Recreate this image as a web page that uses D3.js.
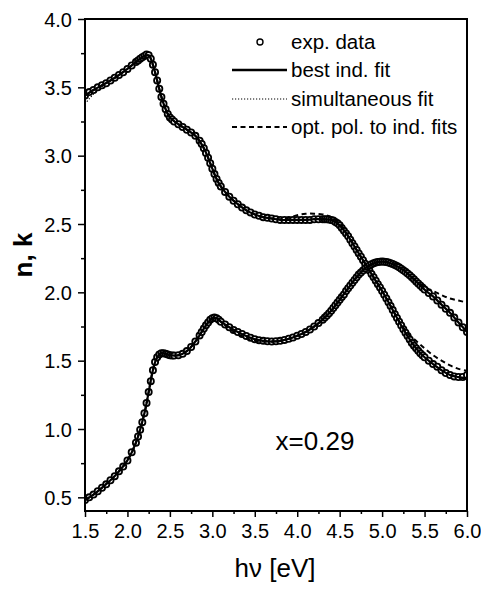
<!DOCTYPE html>
<html>
<head>
<meta charset="utf-8">
<script src="https://cdn.jsdelivr.net/npm/d3@7/dist/d3.min.js"></script>
<style>
  html, body { margin: 0; padding: 0; background: #fff; }
  svg { display: block; }
  text { font-family: "Liberation Sans", Arial, Helvetica, sans-serif; fill: #000; }
</style>
</head>
<body>
<svg id="chart" width="481" height="589"></svg>
<script>
// ---------- data ----------
const energyExp = [
  1.50,1.55,1.60,1.65,1.70,1.75,1.80,1.85,1.90,1.95,2.00,2.05,
  2.10,2.125,2.15,2.175,2.20,2.225,2.25,2.275,2.30,2.325,2.35,2.375,2.40,2.425,2.45,2.475,2.50,2.525,2.55,
  2.60,2.65,2.70,2.75,2.80,
  2.85,2.875,2.90,2.925,2.95,2.975,3.00,3.025,3.05,3.075,3.10,
  3.15,3.20,3.25,3.30,3.35,3.40,3.45,3.50,3.55,3.60,3.65,3.70,3.75,3.80,3.85,3.90,3.95,4.00,4.05,4.10,4.15,4.20,4.25,
  4.30,4.325,4.35,4.375,4.40,4.425,4.45,4.475,4.50,4.525,4.55,4.575,4.60,4.625,4.65,4.675,4.70,4.725,4.75,4.775,
  4.80,4.825,4.85,4.875,4.90,4.925,4.95,4.975,5.00,5.025,5.05,5.075,5.10,5.125,5.15,5.175,5.20,5.225,5.25,5.275,
  5.30,5.325,5.35,5.375,5.40,5.425,5.45,5.475,5.50,
  5.55,5.60,5.65,5.70,5.75,5.80,5.85,5.90,5.95,6.00
];
const nExp = [
  3.44,3.465,3.48,3.50,3.515,3.53,3.55,3.57,3.59,3.61,3.635,3.66,
  3.685,3.697,3.71,3.72,3.73,3.74,3.735,3.71,3.665,3.61,3.55,3.49,3.43,3.38,3.34,3.305,3.28,3.265,3.25,
  3.23,3.21,3.19,3.17,3.145,
  3.11,3.085,3.055,3.02,2.985,2.945,2.905,2.865,2.83,2.80,2.775,
  2.735,2.70,2.67,2.645,2.62,2.60,2.585,2.57,2.56,2.55,2.545,2.54,2.535,2.53,2.53,2.53,2.53,2.53,2.53,2.53,2.53,2.535,2.535,
  2.535,2.535,2.535,2.533,2.53,2.525,2.515,2.505,2.49,2.47,2.45,2.43,2.41,2.385,2.36,2.335,2.31,2.285,2.26,2.235,
  2.21,2.185,2.16,2.135,2.11,2.085,2.06,2.035,2.01,1.983,1.955,1.928,1.90,1.87,1.84,1.812,1.785,1.757,1.73,1.705,
  1.68,1.655,1.63,1.61,1.59,1.572,1.555,1.54,1.525,
  1.50,1.475,1.455,1.43,1.41,1.395,1.385,1.38,1.38,1.395
];
const kExp = [
  0.48,0.50,0.52,0.545,0.57,0.595,0.625,0.655,0.69,0.725,0.77,0.83,
  0.90,0.945,0.995,1.05,1.115,1.19,1.27,1.35,1.43,1.49,1.525,1.545,1.555,1.555,1.55,1.545,1.54,1.537,1.537,
  1.54,1.55,1.57,1.60,1.64,
  1.685,1.71,1.735,1.76,1.78,1.80,1.81,1.815,1.81,1.80,1.785,
  1.765,1.745,1.725,1.71,1.695,1.68,1.668,1.657,1.65,1.645,1.642,1.64,1.642,1.645,1.652,1.66,1.67,1.682,1.695,1.71,1.728,1.75,1.775,
  1.80,1.815,1.83,1.847,1.865,1.885,1.905,1.925,1.945,1.965,1.985,2.01,2.03,2.05,2.07,2.09,2.11,2.13,2.145,2.16,
  2.175,2.187,2.197,2.205,2.212,2.218,2.222,2.224,2.225,2.224,2.222,2.218,2.213,2.207,2.20,2.192,2.183,2.173,2.162,2.15,
  2.138,2.125,2.11,2.095,2.08,2.065,2.05,2.035,2.02,
  1.995,1.97,1.94,1.91,1.88,1.85,1.815,1.78,1.745,1.71
];

const energyFit = [
  1.5,1.6,1.7,1.8,1.9,2.0,2.1,2.2,
  2.25,2.3,2.35,2.4,2.45,2.5,
  2.6,2.7,2.8,2.9,
  2.95,3.0,3.05,3.1,
  3.2,3.3,3.4,3.5,3.6,3.7,3.8,3.9,4.0,4.1,4.2,4.3,4.4,4.5,4.6,4.7,4.8,4.9,5.0,5.1,5.2,5.3,5.4,5.5,5.6,5.7,5.8,5.9,6.0
];
const nBest = [
  3.44,3.48,3.515,3.55,3.59,3.635,3.685,3.73,
  3.735,3.665,3.55,3.43,3.34,3.28,
  3.23,3.19,3.145,3.055,
  2.985,2.905,2.83,2.775,
  2.70,2.645,2.60,2.57,2.55,2.54,2.53,2.53,2.53,2.53,2.535,2.535,2.53,2.49,2.41,2.31,2.21,2.11,2.01,1.90,1.785,1.68,1.59,1.525,1.475,1.43,1.395,1.38,1.37
];
const kBest = [
  0.48,0.52,0.57,0.625,0.69,0.77,0.90,1.115,
  1.27,1.43,1.525,1.555,1.55,1.54,
  1.54,1.57,1.64,1.735,
  1.78,1.81,1.81,1.785,
  1.745,1.71,1.68,1.657,1.645,1.64,1.645,1.66,1.682,1.71,1.75,1.80,1.865,1.945,2.03,2.11,2.175,2.212,2.225,2.213,2.183,2.138,2.08,2.02,1.97,1.91,1.85,1.78,1.71
];
const nSimul = [
  3.38,3.45,3.505,3.55,3.59,3.635,3.685,3.73,
  3.735,3.665,3.55,3.43,3.34,3.28,
  3.23,3.19,3.145,3.055,
  2.985,2.905,2.83,2.775,
  2.70,2.645,2.60,2.57,2.55,2.54,2.53,2.53,2.53,2.53,2.535,2.535,2.53,2.49,2.41,2.31,2.21,2.11,2.01,1.90,1.785,1.68,1.59,1.525,1.475,1.43,1.395,1.38,1.37
];
const kSimul = [
  0.48,0.52,0.57,0.625,0.69,0.77,0.90,1.115,
  1.27,1.43,1.525,1.555,1.55,1.54,
  1.54,1.57,1.64,1.735,
  1.78,1.81,1.81,1.785,
  1.745,1.71,1.68,1.657,1.645,1.64,1.645,1.66,1.682,1.71,1.75,1.80,1.865,1.945,2.03,2.11,2.175,2.212,2.225,2.213,2.183,2.138,2.08,2.02,1.97,1.91,1.85,1.78,1.71
];
const nOptPol = [
  3.44,3.48,3.515,3.55,3.59,3.635,3.685,3.73,
  3.735,3.665,3.55,3.43,3.34,3.28,
  3.23,3.19,3.145,3.055,
  2.985,2.905,2.83,2.775,
  2.70,2.645,2.60,2.57,2.55,2.54,2.535,2.545,2.565,2.575,2.575,2.57,2.55,2.50,2.415,2.31,2.21,2.11,2.01,1.90,1.79,1.70,1.645,1.59,1.54,1.50,1.465,1.44,1.425
];
const kOptPol = [
  0.48,0.52,0.57,0.625,0.69,0.77,0.90,1.115,
  1.27,1.43,1.525,1.555,1.55,1.54,
  1.54,1.57,1.64,1.735,
  1.78,1.81,1.81,1.785,
  1.735,1.695,1.665,1.645,1.64,1.64,1.645,1.66,1.682,1.71,1.75,1.80,1.865,1.945,2.03,2.11,2.175,2.212,2.225,2.213,2.183,2.138,2.085,2.04,2.01,1.98,1.955,1.94,1.925
];

const xTicks = [1.5,2.0,2.5,3.0,3.5,4.0,4.5,5.0,5.5,6.0];
const yTicks = [0.5,1.0,1.5,2.0,2.5,3.0,3.5,4.0];
const legendLabels = ["exp. data","best ind. fit","simultaneous fit","opt. pol. to ind. fits"];
const xTitle = "h\u03BD [eV]";
const yTitle = "n, k";
const annotation = "x=0.29";

// ---------- layout ----------
const svg = d3.select("#chart");
const L = 85, R = 467, T = 19, B = 511;
const x = d3.scaleLinear().domain([1.5, 6.0]).range([L, R]);
const y = d3.scaleLinear().domain([0.4, 4.0]).range([B, T]);

svg.append("defs").append("clipPath").attr("id","clip")
  .append("rect").attr("x",L).attr("y",T).attr("width",R-L).attr("height",B-T);

const plot = svg.append("g").attr("clip-path","url(#clip)");

// exp data circles
function drawExp(vals){
  plot.append("g").selectAll("circle")
    .data(energyExp.map((e,i)=>[e, vals[i]]))
    .join("circle")
    .attr("cx", d=>x(d[0])).attr("cy", d=>y(d[1]))
    .attr("r", 3.1)
    .attr("fill","#fff").attr("stroke","#000").attr("stroke-width",1.8);
}
drawExp(nExp);
drawExp(kExp);

const line = d3.line().x(d=>x(d[0])).y(d=>y(d[1])).curve(d3.curveCatmullRom.alpha(0.5));
function drawFit(vals, style){
  const p = plot.append("path")
    .datum(energyFit.map((e,i)=>[e, vals[i]]))
    .attr("d", line).attr("fill","none").attr("stroke","#000");
  if(style==="solid") p.attr("stroke-width",2.2);
  if(style==="dot") p.attr("stroke-width",1.2).attr("stroke-dasharray","1.2,1.8");
  if(style==="dash") p.attr("stroke-width",2).attr("stroke-dasharray","5,3.5");
}
drawFit(nSimul,"dot"); drawFit(kSimul,"dot");
drawFit(nOptPol,"dash"); drawFit(kOptPol,"dash");
drawFit(nBest,"solid"); drawFit(kBest,"solid");

// frame
svg.append("rect").attr("x",L).attr("y",T).attr("width",R-L).attr("height",B-T)
  .attr("fill","none").attr("stroke","#000").attr("stroke-width",2);

// axes
const xAxis = d3.axisBottom(x).tickValues(xTicks).tickFormat(d3.format(".1f")).tickSize(6).tickPadding(7);
const gx = svg.append("g").attr("transform",`translate(0,${B})`).call(xAxis);
const xMinor = d3.axisBottom(x).tickValues(xTicks.slice(0,-1).map(v=>v+0.25)).tickFormat("").tickSize(3);
const gxm = svg.append("g").attr("transform",`translate(0,${B})`).call(xMinor);

const yAxis = d3.axisLeft(y).tickValues(yTicks).tickFormat(d3.format(".1f")).tickSize(7).tickPadding(6);
const gy = svg.append("g").attr("transform",`translate(${L},0)`).call(yAxis);
const yMinor = d3.axisLeft(y).tickValues(yTicks.slice(0,-1).map(v=>v+0.25)).tickFormat("").tickSize(4);
const gym = svg.append("g").attr("transform",`translate(${L},0)`).call(yMinor);

[gx,gxm,gy,gym].forEach(g=>{
  g.select(".domain").remove();
  g.selectAll("line").attr("stroke","#000").attr("stroke-width",1.5);
  g.selectAll("text").attr("font-size",20).attr("font-family","'Liberation Sans', Arial, sans-serif").attr("fill","#000");
});
gy.selectAll("text").attr("dy","0.36em");

// titles
svg.append("text").attr("x",275).attr("y",577).attr("text-anchor","middle")
  .attr("font-size",26).text(xTitle);
svg.append("text").attr("transform","translate(32,255) rotate(-90)").attr("text-anchor","middle")
  .attr("font-size",26).attr("font-weight","bold").text(yTitle);
svg.append("text").attr("x",315).attr("y",450).attr("text-anchor","middle")
  .attr("font-size",26).text(annotation);

// legend
const lg = svg.append("g");
const rows = [42,70,99,127];
const styles = ["circle","solid","dot","dash"];
rows.forEach((ry,i)=>{
  if(styles[i]==="circle"){
    lg.append("circle").attr("cx",260).attr("cy",ry).attr("r",3).attr("fill","#fff").attr("stroke","#000").attr("stroke-width",1.4);
  } else {
    const l = lg.append("line").attr("x1",232).attr("x2",287).attr("y1",ry).attr("y2",ry).attr("stroke","#000");
    if(styles[i]==="solid") l.attr("stroke-width",2.5);
    if(styles[i]==="dot") l.attr("stroke-width",1.2).attr("stroke-dasharray","1.2,1.8");
    if(styles[i]==="dash") l.attr("stroke-width",2).attr("stroke-dasharray","5,3.5");
  }
  lg.append("text").attr("x",291).attr("y",ry+7).attr("font-size",20.5).text(legendLabels[i]);
});
</script>
</body>
</html>
